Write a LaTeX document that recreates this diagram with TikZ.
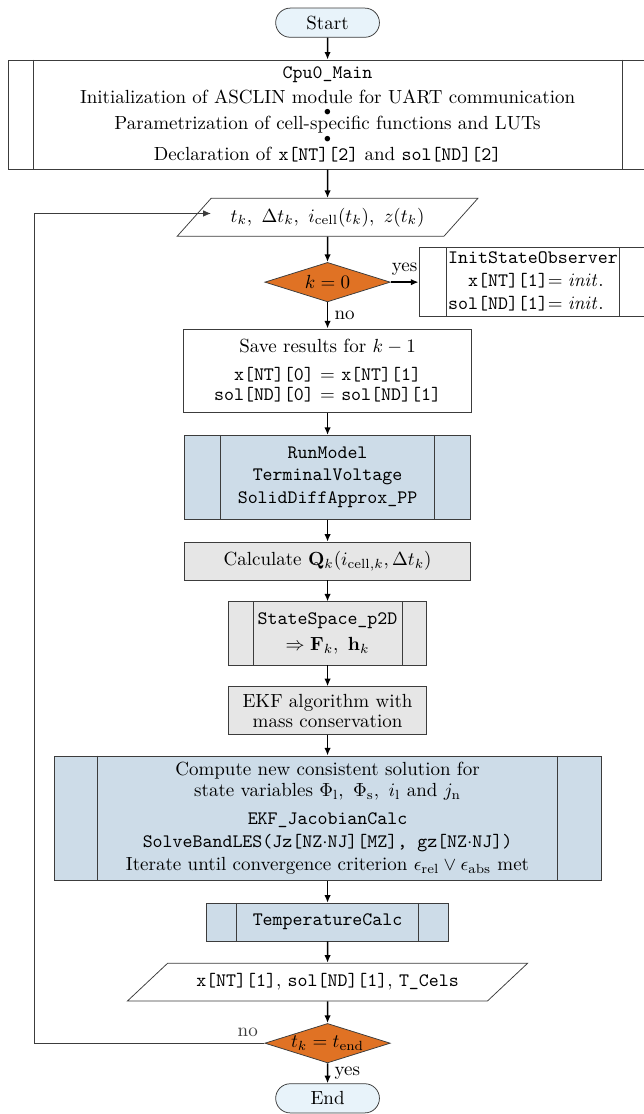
\documentclass[tikz,border=0pt]{standalone}
\usepackage{xcolor}
\usepackage{amsmath}
\usepackage{amssymb}
\usepackage{tikz}
\usetikzlibrary{positioning,arrows,arrows.meta,shapes,shapes.misc,shapes.geometric}
\definecolor{boxblue}{RGB}{205,220,232}
\definecolor{boxgray}{RGB}{230,230,230}
\definecolor{termblue}{RGB}{232,243,250}
\definecolor{decorange}{RGB}{224,114,36}
\definecolor{edgegray}{RGB}{60,60,60}
\tikzset{
  terminal/.style={draw=edgegray, fill=termblue, rounded rectangle,
    minimum width=1.92cm, minimum height=0.54cm, inner sep=0pt},
  procbox/.style={draw=edgegray, rectangle, align=center, inner sep=0pt},
  subproc/.style={procbox, append after command={
    ([xshift=#1]\tikzlastnode.north west) edge[draw=edgegray] ([xshift=#1]\tikzlastnode.south west)
    ([xshift=-#1]\tikzlastnode.north east) edge[draw=edgegray] ([xshift=-#1]\tikzlastnode.south east)}},
  decision/.style={draw=edgegray, fill=decorange, diamond, aspect=3, inner sep=0pt,
    minimum width=2.32cm, minimum height=0.73cm},
  inout/.style={draw=edgegray, trapezium, trapezium stretches=true, inner sep=0pt},
  flow/.style={->, line width=0.8pt}
}

\begin{document}
\begin{tikzpicture}[>={Latex[length=4pt,width=3.4pt]}]
\useasboundingbox (0,0) rectangle (11.90,20.61);
\coordinate (loop) at (0.63,0);
\node (start) at (6.06,20.19) [terminal] {Start};
\node (cpu) at (6.06,18.49) [subproc=0.46cm, minimum width=11.80cm, minimum height=2.02cm]
  {\texttt{Cpu0\_Main}\\[1.2pt]
   Initialization of ASCLIN module for UART communication\\[-5.2pt]
   \smash{\textbullet}\\[-5.2pt]
   Parametrization of cell-specific functions and LUTs\\[-4.6pt]
   \smash{\textbullet}\\[-3.1pt]
   Declaration of \texttt{x[NT][2]} and \texttt{sol[ND][2]}};
\node (in) at (6.06,16.59) [inout, trapezium left angle=34, trapezium right angle=146,
  minimum width=5.57cm, minimum height=0.70cm]
  {$t_k,\ \Delta t_k,\ i_\mathrm{cell}(t_k),\ z(t_k)$};
\coordinate (inleft) at ([xshift=-2.16cm, yshift=0.07cm]in.center);
\node (kzero) at (6.06,15.39) [decision] {$k=0$};
\node (init) at (9.86,15.39) [subproc=0.52cm, minimum width=4.22cm, minimum height=1.28cm]
  {\begin{tabular}{@{}r@{}l@{}}
   \multicolumn{2}{@{}c@{}}{\texttt{InitStateObserver}}\\
   \texttt{x[NT][1]} & $=\mathit{init}.$\\
   \texttt{sol[ND][1]} & $=\mathit{init}.$
   \end{tabular}};
\node (save) at (6.06,13.75) [procbox, minimum width=5.33cm, minimum height=1.55cm]
  {Save results for $k-1$\\[3pt]
   \texttt{x[NT][0]} $=$ \texttt{x[NT][1]}\\[-1.5pt]
   \texttt{sol[ND][0]} $=$ \texttt{sol[ND][1]}};
\node (run) at (6.06,11.78) [subproc=0.67cm, fill=boxblue, minimum width=5.29cm, minimum height=1.55cm]
  {\texttt{RunModel}\\ \texttt{TerminalVoltage}\\ \texttt{SolidDiffApprox\_PP}};
\node (calcq) at (6.06,10.23) [procbox, fill=boxgray, minimum width=5.29cm, minimum height=0.70cm]
  {Calculate $\mathbf{Q}_k(i_{\mathrm{cell},k},\Delta t_k)$};
\node (ss) at (6.06,8.89) [subproc=0.46cm, fill=boxgray, minimum width=3.66cm, minimum height=1.17cm]
  {\texttt{StateSpace\_p2D}\\[2pt] $\Rightarrow \mathbf{F}_k,\ \mathbf{h}_k$};
\node (ekf) at (6.06,7.46) [procbox, fill=boxgray, minimum width=3.66cm, minimum height=0.89cm]
  {EKF algorithm with\\[-1.5pt] mass conservation};
\node (comp) at (6.06,5.47) [subproc=0.81cm, fill=boxblue, minimum width=10.12cm, minimum height=2.31cm]
  {Compute new consistent solution for\\[-1pt]
   state variables $\Phi_\mathrm{l},\ \Phi_\mathrm{s},\ i_\mathrm{l}$ and $j_\mathrm{n}$\\[3pt]
   \texttt{EKF\_JacobianCalc}\\
   \texttt{SolveBandLES(Jz[NZ$\cdot$NJ][MZ], gz[NZ$\cdot$NJ])}\\
   Iterate until convergence criterion $\epsilon_\mathrm{rel}\vee\epsilon_\mathrm{abs}$ met};
\node (temp) at (6.06,3.55) [subproc=0.56cm, fill=boxblue, minimum width=4.48cm, minimum height=0.70cm]
  {\texttt{TemperatureCalc}};
\node (out) at (6.06,2.44) [inout, trapezium left angle=27, trapezium right angle=153,
  minimum width=7.42cm, minimum height=0.70cm]
  {\texttt{x[NT][1]}, \texttt{sol[ND][1]}, \texttt{T\_Cels}};
\node (tend) at (6.06,1.31) [decision] {$t_k=t_\mathrm{end}$};
\node (end) at (6.06,0.29) [terminal] {End};

\draw[flow] (start) -- (cpu);
\draw[flow] (cpu) -- (in);
\draw[flow] (in) -- (kzero);
\draw[flow] (kzero.east) -- node[above]{yes} (kzero.east -| init.west);
\draw[flow] (kzero) -- node[right]{no} (save);
\draw[flow] (save) -- (run);
\draw[flow] (run) -- (calcq);
\draw[flow] (calcq) -- (ss);
\draw[flow] (ss) -- (ekf);
\draw[flow] (ekf) -- (comp);
\draw[flow] (comp) -- (temp);
\draw[flow] (temp) -- (out);
\draw[flow] (out) -- (tend);
\draw[flow] (tend) -- node[right]{yes} (end);
\draw[->, edgegray] (tend.west) node[above left]{no} -- (tend.west -| loop) |- (inleft);
\end{tikzpicture}
\end{document}
